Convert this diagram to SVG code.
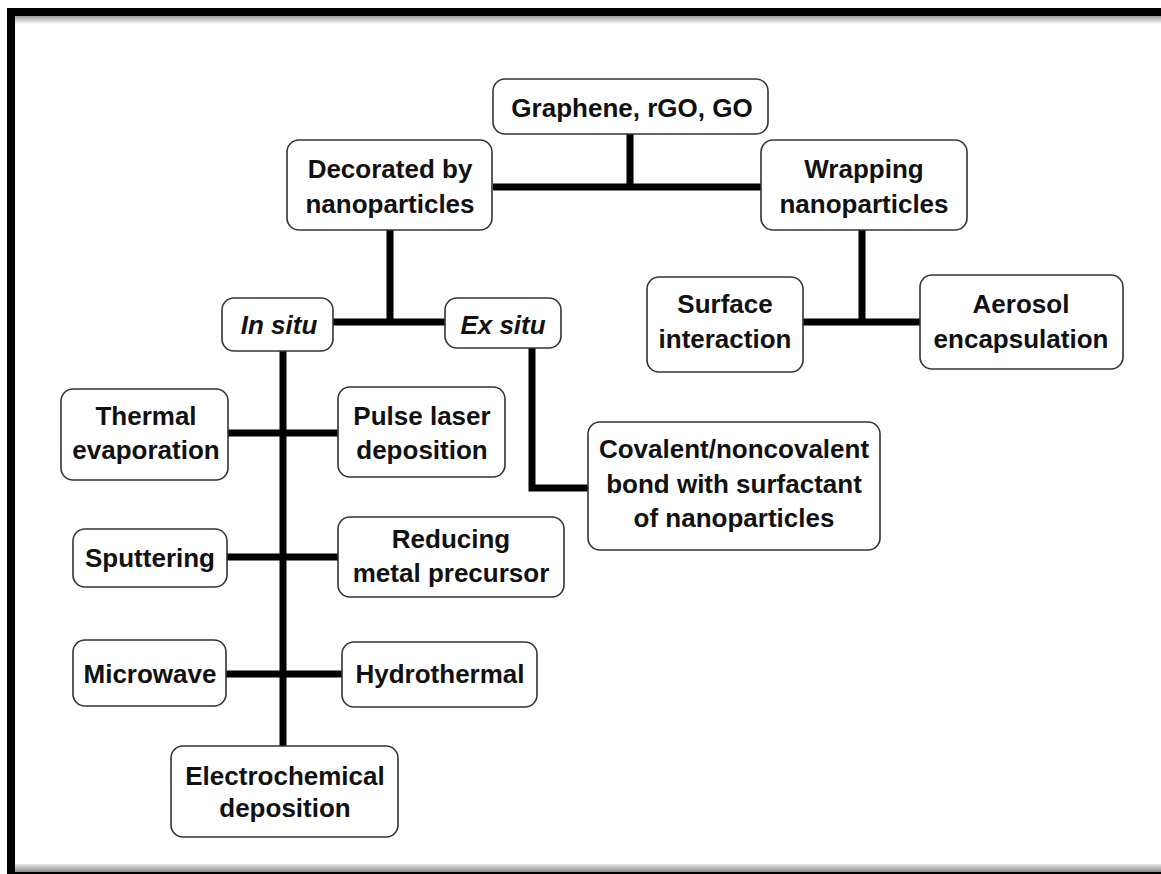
<svg xmlns="http://www.w3.org/2000/svg" width="1161" height="874" viewBox="0 0 1161 874">
<defs>
<linearGradient id="gTop" x1="0" y1="0" x2="0" y2="1">
<stop offset="0" stop-color="#9a9a9a"/>
<stop offset="1" stop-color="#ffffff"/>
</linearGradient>
<linearGradient id="gBot" x1="0" y1="0" x2="0" y2="1">
<stop offset="0" stop-color="#e6e6e6"/>
<stop offset="1" stop-color="#8a8a8a"/>
</linearGradient>
</defs>
<style>
.box{fill:#fff;stroke:#333;stroke-width:1.6}
.t{font-family:"Liberation Sans",Arial,Helvetica,sans-serif;font-weight:bold;font-size:26px;fill:#111;text-anchor:middle}
.it{font-style:italic}
.c{stroke:#000;stroke-width:7;fill:none;stroke-linecap:butt}
</style>
<rect x="0" y="0" width="1161" height="874" fill="#fff"/>
<g id="frame">
<rect x="15" y="16" width="1146" height="8" fill="url(#gTop)"/>
<rect x="15" y="864" width="1146" height="8" fill="url(#gBot)"/>
<rect x="7" y="8" width="1154" height="8" fill="#000"/>
<rect x="7" y="8" width="8" height="866" fill="#000"/>
<rect x="15" y="872" width="1146" height="2" fill="#000"/>
</g>
<g id="connectors">
<path class="c" d="M630 134V187M493 187H761"/>
<path class="c" d="M390 230V322M333 322H445"/>
<path class="c" d="M862 230V322M803 322H920"/>
<path class="c" d="M283 351V746"/>
<path class="c" d="M228 433H338M227 557H338M226 674H342"/>
<path class="c" d="M532 348V488H588"/>
</g>
<g id="n-graphene"><rect class="box" x="493" y="79" width="275" height="55" rx="12"/><text class="t" x="632" y="117">Graphene, rGO, GO</text></g>
<g id="n-decorated"><rect class="box" x="287" y="140" width="205" height="90" rx="12"/><text class="t" x="390" y="178">Decorated by</text><text class="t" x="390" y="213">nanoparticles</text></g>
<g id="n-wrapping"><rect class="box" x="761" y="140" width="206" height="90" rx="12"/><text class="t" x="864" y="178">Wrapping</text><text class="t" x="864" y="213">nanoparticles</text></g>
<g id="n-surface"><rect class="box" x="647" y="277" width="156" height="95" rx="12"/><text class="t" x="725" y="313">Surface</text><text class="t" x="725" y="348">interaction</text></g>
<g id="n-aerosol"><rect class="box" x="920" y="275" width="203" height="94" rx="12"/><text class="t" x="1021" y="313">Aerosol</text><text class="t" x="1021" y="348">encapsulation</text></g>
<g id="n-insitu"><rect class="box" x="222" y="298" width="111" height="53" rx="12"/><text class="t it" x="279" y="334">In situ</text></g>
<g id="n-exsitu"><rect class="box" x="445" y="298" width="116" height="50" rx="12"/><text class="t it" x="503" y="334">Ex situ</text></g>
<g id="n-covalent"><rect class="box" x="588" y="422" width="292" height="128" rx="12"/><text class="t" x="734" y="458">Covalent/noncovalent</text><text class="t" x="734" y="493">bond with surfactant</text><text class="t" x="734" y="527">of nanoparticles</text></g>
<g id="n-thermal"><rect class="box" x="61" y="389" width="167" height="91" rx="12"/><text class="t" x="146" y="425">Thermal</text><text class="t" x="146" y="459">evaporation</text></g>
<g id="n-pulse"><rect class="box" x="338" y="387" width="167" height="90" rx="12"/><text class="t" x="422" y="425">Pulse laser</text><text class="t" x="422" y="459">deposition</text></g>
<g id="n-sputtering"><rect class="box" x="73" y="529" width="154" height="58" rx="12"/><text class="t" x="150" y="567">Sputtering</text></g>
<g id="n-reducing"><rect class="box" x="338" y="517" width="226" height="80" rx="12"/><text class="t" x="451" y="548">Reducing</text><text class="t" x="451" y="582">metal precursor</text></g>
<g id="n-microwave"><rect class="box" x="73" y="640" width="153" height="66" rx="12"/><text class="t" x="150" y="683">Microwave</text></g>
<g id="n-hydrothermal"><rect class="box" x="342" y="642" width="195" height="65" rx="12"/><text class="t" x="440" y="683">Hydrothermal</text></g>
<g id="n-electro"><rect class="box" x="171" y="746" width="227" height="91" rx="12"/><text class="t" x="285" y="785">Electrochemical</text><text class="t" x="285" y="817">deposition</text></g>
</svg>
